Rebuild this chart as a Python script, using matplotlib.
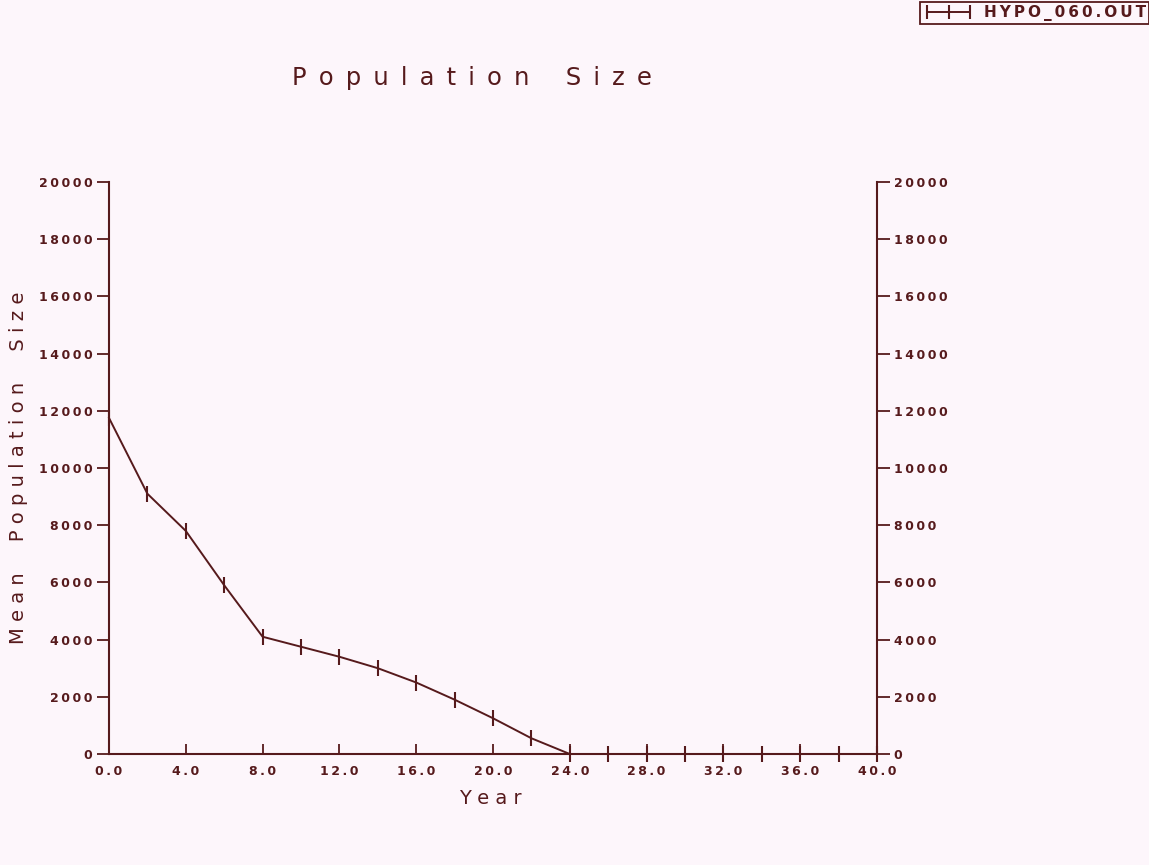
import matplotlib
matplotlib.use("Agg")
import matplotlib.pyplot as plt
from matplotlib.font_manager import FontProperties
from matplotlib.ticker import FuncFormatter, MultipleLocator

# mean population per simulated year
years = [0, 2, 4, 6, 8, 10, 12, 14, 16, 18, 20, 22, 24, 26, 28, 30, 32, 34, 36, 38, 40]
pop_mean = [11750, 9100, 7800, 5900, 4100, 3750, 3400, 3000, 2500, 1900, 1250, 550,
            0, 0, 0, 0, 0, 0, 0, 0, 0]
series_name = "HYPO_060.OUT"

ink = "#561a1c"
paper = "#fdf6fb"

THIN = "\u2009"
EN = "\u2002"


def spaced(s, gap=" ", word_gap="     "):
    return word_gap.join(gap.join(w) for w in s.split(" "))


fig = plt.figure(figsize=(11.49, 8.65), dpi=100, facecolor=paper)
ax = fig.add_axes([109 / 1149, 111 / 865, 768 / 1149, 572 / 865])
ax.set_facecolor(paper)

ax.plot(years, pop_mean, color=ink, lw=1.4, marker="|", ms=11, mew=1.5,
        label=series_name, clip_on=False)

ax.set_xlim(0, 40)
ax.set_ylim(0, 20000)
ax.xaxis.set_major_locator(MultipleLocator(4))
ax.yaxis.set_major_locator(MultipleLocator(2000))
ax.xaxis.set_major_formatter(FuncFormatter(lambda v, p: spaced("%.1f" % v, THIN)))
ax.yaxis.set_major_formatter(FuncFormatter(lambda v, p: spaced("%d" % v, THIN)))

for s in ["left", "right", "bottom"]:
    ax.spines[s].set_color(ink)
    ax.spines[s].set_linewidth(1.5)
ax.spines["top"].set_visible(False)

tick_fp = FontProperties(family="DejaVu Sans", weight="bold", size=9)
ax.tick_params(axis="y", direction="out", length=9, width=1.3,
               color=ink, labelcolor=ink, left=True, right=True,
               labelleft=True, labelright=True, pad=3)
ax.tick_params(axis="x", direction="in", length=7, width=1.3, color=ink,
               labelcolor=ink, pad=8)
for t in ax.xaxis.get_major_ticks():
    t.label1.set_fontproperties(tick_fp)
for t in ax.yaxis.get_major_ticks():
    t.label1.set_fontproperties(tick_fp)
    t.label2.set_fontproperties(tick_fp)

fig.text(472 / 1149, 1 - 78 / 865, spaced("Population Size", EN, EN * 3),
         ha="center", va="center", color=ink, fontsize=17.5, family="DejaVu Sans")
fig.text(19 / 1149, 1 - 468 / 865, spaced("Mean Population Size"),
         ha="center", va="center", rotation=90, color=ink, fontsize=14, family="DejaVu Sans")
fig.text(490 / 1149, 1 - 798 / 865, spaced("Year"),
         ha="center", va="center", color=ink, fontsize=14, family="DejaVu Sans")

# legend box sits against the top right corner of the page
leg = fig.legend(loc="upper right", bbox_to_anchor=(1.0, 1 - 2 / 865),
                 numpoints=3, frameon=True, fancybox=False, framealpha=1,
                 edgecolor=ink, facecolor=paper, borderpad=0.2, handlelength=3.4,
                 handletextpad=0.6, borderaxespad=0, markerscale=0.9,
                 prop=dict(family="DejaVu Sans", weight="bold", size=11))
for t in leg.get_texts():
    t.set_text(spaced(series_name, THIN))
    t.set_color(ink)
leg.get_frame().set_linewidth(1.3)

fig.savefig("out.png", dpi=100, facecolor=paper)
